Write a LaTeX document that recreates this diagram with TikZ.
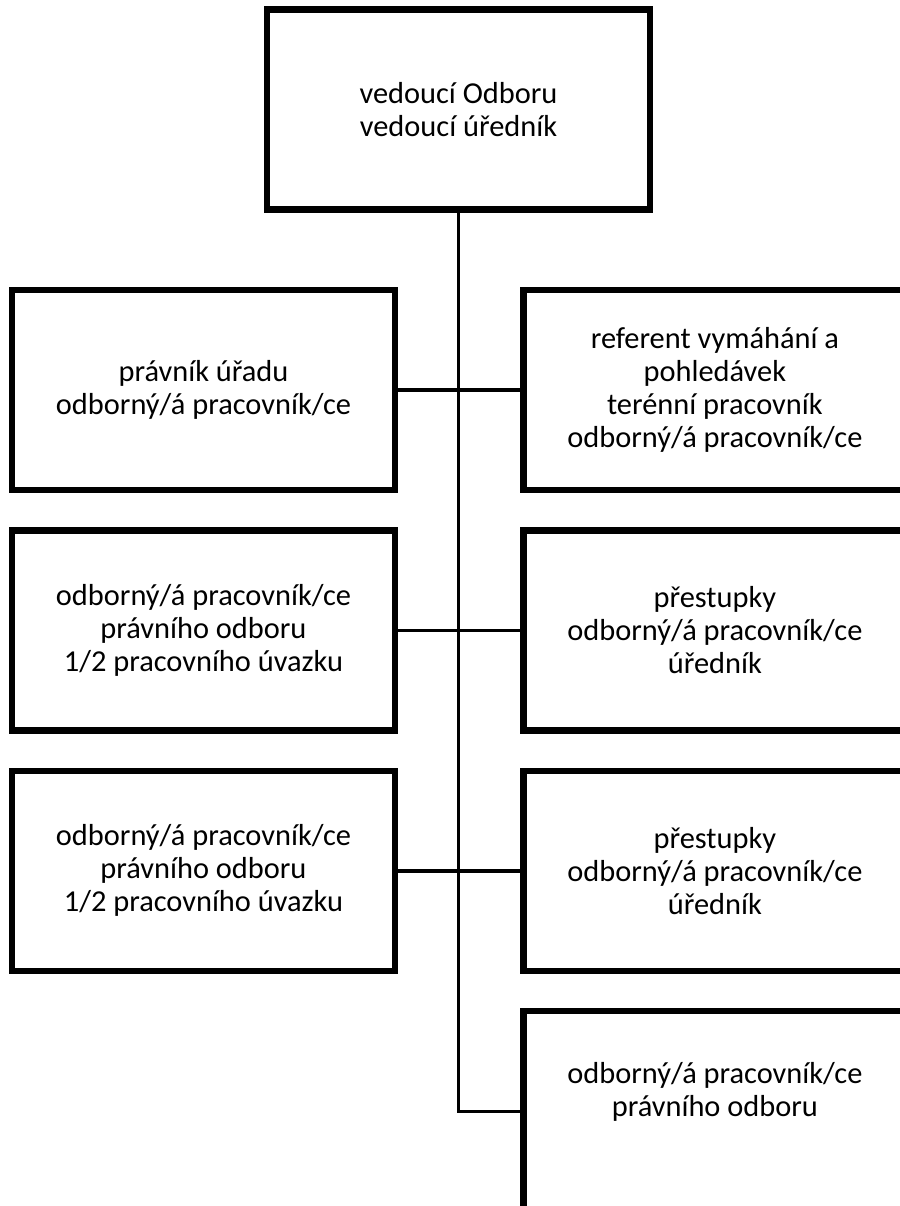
\documentclass[tikz,border=0pt]{standalone}
\usepackage{fontspec}
\setmainfont{Carlito}
\usepackage{tikz}
\usetikzlibrary{positioning}

\begin{document}
\begin{tikzpicture}[
    x=1pt, y=1pt,
    node distance=17pt and 61pt,
    box/.style={
        rectangle, draw=black, line width=3.2pt,
        fill=white,
        minimum width=191.5pt, minimum height=100pt,
        align=center, inner sep=2pt,
        font=\fontsize{15.2}{16.5}\selectfont
    },
    conn/.style={draw=black, line width=1.7pt},
]
\useasboundingbox (0,0) rectangle (450,-603);

% Vedení odboru
\node[box] (vedouci) at (229.25,-54.75) {vedoucí Odboru\\vedoucí úředník};

% Levý sloupec
\node[box] (pravnik) at (101.75,-195) {právník úřadu\\odborný/á pracovník/ce};
\node[box, below=of pravnik] (uvazekA) {odborný/á pracovník/ce\\právního odboru\\1/2 pracovního úvazku};
\node[box, below=of uvazekA] (uvazekB) {odborný/á pracovník/ce\\právního odboru\\1/2 pracovního úvazku};

% Pravý sloupec
\node[box, right=of pravnik] (vymahani) {referent vymáhání a\\pohledávek\\terénní pracovník\\odborný/á pracovník/ce};
\node[box, right=of uvazekA] (prestupkyA) {přestupky\\odborný/á pracovník/ce\\úředník};
\node[box, right=of uvazekB] (prestupkyB) {přestupky\\odborný/á pracovník/ce\\úředník};
\node[box, below=of prestupkyB] (odbor) {odborný/á pracovník/ce\\právního odboru\\\strut};

% Spojnice
\draw[conn] (vedouci.south) |- (odbor.west);
\draw[conn] (pravnik) -- (vymahani);
\draw[conn] (uvazekA) -- (prestupkyA);
\draw[conn] (uvazekB) -- (prestupkyB);

\end{tikzpicture}
\end{document}
